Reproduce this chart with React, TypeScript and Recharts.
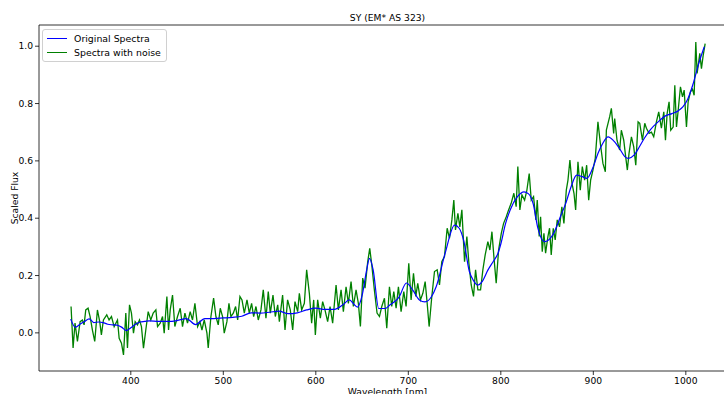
import { LineChart, Line, XAxis, YAxis, Legend, ReferenceLine } from "recharts";

// smooth spectrum (blue)
const origWl = [
  335, 340, 345, 350, 355, 360, 365, 370, 375, 380, 385, 390, 395, 400, 405, 410, 415, 420, 430, 440, 450, 460, 470,
  480, 490, 500, 510, 520, 530, 540, 550, 560, 570, 580, 590, 600, 610, 620, 630, 636, 645, 650, 655, 658, 662, 668,
  675, 680, 690, 698, 705, 712, 718, 725, 730, 740, 750, 755, 760, 766, 770, 775, 780, 786, 792, 797, 800, 805, 810,
  818, 825, 830, 835, 840, 847, 852, 858, 865, 870, 876, 882, 888, 893, 900, 905, 910, 916, 922, 928, 934, 938, 944,
  950, 955, 962, 970, 978, 985, 992, 997, 1002, 1008, 1014, 1020,
];
const origFlux = [
  0.048, 0.02, 0.03, 0.04, 0.049, 0.036, 0.038, 0.036, 0.03, 0.028, 0.027, 0.02, 0.008, 0.018, 0.03, 0.038, 0.04,
  0.042, 0.04, 0.04, 0.043, 0.05, 0.029, 0.05, 0.05, 0.052, 0.054, 0.058, 0.07, 0.069, 0.072, 0.076, 0.067, 0.07,
  0.08, 0.086, 0.082, 0.082, 0.1, 0.115, 0.09, 0.13, 0.22, 0.26, 0.22, 0.085, 0.085, 0.097, 0.125, 0.174, 0.148,
  0.115, 0.108, 0.126, 0.16, 0.28, 0.376, 0.365, 0.32, 0.214, 0.185, 0.167, 0.18, 0.219, 0.25, 0.278, 0.31, 0.38,
  0.428, 0.475, 0.492, 0.485, 0.45, 0.366, 0.318, 0.325, 0.353, 0.41, 0.45, 0.51, 0.55, 0.545, 0.539, 0.58, 0.626,
  0.66, 0.684, 0.67, 0.645, 0.615, 0.609, 0.62, 0.65, 0.678, 0.71, 0.736, 0.757, 0.765, 0.775, 0.789, 0.815, 0.87,
  0.94, 0.998,
];

// noisy spectrum (green)
const noiseWl = [
  335.4, 337.6, 339.7, 342.3, 345.2, 347.7, 349.5, 351.3, 353.8, 356.0, 358.5, 361.0, 363.9, 366.4, 368.2, 370.4,
  374.0, 376.5, 379.1, 382.0, 385.6, 387.4, 389.9, 392.1, 394.6, 396.4, 398.6, 400.7, 402.9, 404.7, 407.2, 409.4,
  411.5, 413.7, 416.2, 418.8, 421.6, 424.2, 427.1, 428.9, 431.8, 434.3, 436.1, 439.0, 440.8, 442.6, 445.1, 447.6,
  450.5, 453.4, 455.9, 458.5, 461.3, 464.2, 466.7, 469.3, 472.2, 474.7, 476.9, 479.4, 482.3, 483.7, 486.6, 489.5,
  492.0, 494.5, 496.7, 499.2, 501.0, 503.9, 506.1, 508.2, 510.8, 513.3, 515.5, 518.0, 520.2, 522.7, 525.6, 528.1,
  530.6, 532.8, 535.3, 537.8, 540.7, 543.2, 546.1, 548.6, 550.8, 553.7, 556.2, 558.8, 560.6,
  564.1, 566.7, 569.5, 572.4, 575.0, 577.5, 580.4, 582.2, 584.7, 587.6, 590.1, 593.0, 595.5, 597.7, 599.5, 602.0,
  604.9, 607.4, 609.9, 612.8, 615.4, 618.2, 621.9, 624.4, 627.3, 629.8, 632.7, 635.2, 638.1, 640.6, 643.5, 646.0,
  648.2, 650.7, 653.2, 656.1, 658.3, 660.5, 663.3, 666.2, 668.8, 671.3, 674.2, 676.7, 679.6, 682.1, 684.3, 686.8,
  689.3, 692.2, 695.1, 697.6, 700.5, 703.0, 705.6, 708.1, 710.2, 713.1, 715.7, 718.2, 720.4, 722.5, 725.4, 728.3,
  731.2, 733.7, 736.2, 739.1, 742.0, 744.5, 747.1, 749.2, 751.0, 753.6, 755.7, 757.9, 760.8, 763.3, 765.5, 768.0,
  770.5, 772.7, 775.2, 778.1, 780.6, 783.1, 786.0, 788.2, 790.4, 792.5, 795.0, 797.6, 800.5, 803.0, 805.9, 808.4,
  811.2, 814.1, 816.6, 818.4, 820.6, 822.8, 825.7, 828.2, 830.7, 832.9, 835.4, 837.9, 839.4, 841.5, 843.0, 844.8,
  846.6, 848.4, 850.9, 852.7, 854.5, 856.7, 858.8, 861.0, 863.5, 866.0, 868.2, 870.8, 872.6, 874.7, 876.9, 879.1,
  880.9, 883.4, 885.9, 888.1, 890.6, 892.8, 895.0, 897.1, 899.6, 902.1, 905.0, 907.6, 910.4, 913.0,
  914.1, 917.7, 919.5, 922.0, 923.1, 925.6, 928.5, 930.3, 932.9, 935.0, 936.8, 938.6, 941.2, 943.7, 945.9, 948.4,
  950.2, 953.1, 955.6, 957.4, 960.3, 962.8, 965.3, 968.2, 970.7, 973.6, 976.2, 978.0, 979.8, 981.9, 983.7, 986.3,
  988.1, 989.9, 991.7, 994.2, 996.4, 998.2, 1000.7, 1002.5, 1005.0, 1007.2, 1009.0, 1010.8, 1012.2, 1013.7, 1015.1,
  1016.9, 1018.7, 1020.9,
];
const noiseFlux = [
  0.092, -0.053, 0.034, -0.03, 0.039, 0.045, 0.028, 0.08, 0.086, 0.057, 0.01, -0.03, 0.08, 0.039, -0.007, 0.045,
  0.063, 0.045, 0.057, 0.022, 0.045, -0.019, -0.036, -0.077, 0.069, -0.053, 0.098, 0.069, -0.001, 0.039, 0.028, 0.045,
  0.022, -0.053, 0.01, 0.074, 0.045, 0.069, 0.08, 0.022, 0.034, 0.057, -0.001, 0.127, 0.01, 0.08, 0.132, 0.022,
  0.057, 0.086, 0.022, 0.069, 0.034, 0.074, 0.045, 0.103, 0.022, 0.039, 0.01, 0.045, -0.001, -0.053, 0.057, 0.121,
  0.057, 0.028, 0.086, 0.057, -0.001, 0.039, 0.103, 0.057, 0.069, 0.092, 0.045, 0.127, 0.115, 0.069, 0.115, 0.069,
  0.103, 0.057, 0.092, 0.045, 0.08, 0.15, 0.051, 0.144, 0.069, 0.132, 0.057, 0.098, 0.039,
  0.132, 0.01, 0.115, 0.08, 0.01, 0.109, 0.074, 0.138, 0.08, 0.103, 0.22, 0.138, 0.034, 0.115, -0.007, 0.115,
  0.051, 0.109, 0.08, 0.039, 0.092, 0.034, 0.167, 0.08, 0.15, 0.074, 0.161, 0.103, 0.179, 0.092, 0.15, 0.103,
  0.022, 0.191, 0.156, 0.248, 0.295, 0.237, 0.15, 0.069, 0.057, 0.092, 0.121, 0.016, 0.161, 0.092, 0.144, 0.086,
  0.161, 0.074, 0.144, 0.092, 0.243, 0.115, 0.208, 0.127, 0.173, 0.115, 0.138, 0.179, 0.103, 0.022, 0.127, 0.214,
  0.22, 0.167, 0.248, 0.266, 0.365, 0.33, 0.394, 0.463, 0.359, 0.417, 0.37, 0.429, 0.248, 0.336, 0.243, 0.167,
  0.127, 0.22, 0.15, 0.15, 0.22, 0.272, 0.318, 0.289, 0.353, 0.266, 0.173, 0.289, 0.347, 0.382, 0.405, 0.429,
  0.452, 0.487, 0.44, 0.58, 0.429, 0.481, 0.463, 0.498, 0.556, 0.463, 0.475, 0.394, 0.463, 0.336, 0.405, 0.283,
  0.347, 0.278, 0.336, 0.365, 0.272, 0.365, 0.324, 0.394, 0.37, 0.44, 0.382, 0.498, 0.533, 0.603, 0.522, 0.487,
  0.429, 0.597, 0.498, 0.58, 0.533, 0.585, 0.463, 0.533, 0.568, 0.609, 0.736, 0.661, 0.591, 0.562,
  0.707, 0.754, 0.783, 0.696, 0.748, 0.672, 0.638, 0.707, 0.672, 0.614, 0.568, 0.626, 0.684, 0.649, 0.585, 0.736,
  0.731, 0.672, 0.731, 0.714, 0.696, 0.7, 0.684, 0.736, 0.771, 0.714, 0.771, 0.672, 0.765, 0.806, 0.707, 0.718,
  0.864, 0.718, 0.775, 0.858, 0.823, 0.847, 0.718, 0.806, 0.841, 0.85, 0.829, 1.015, 0.905, 0.94, 0.975,
  0.922, 0.966, 1.009,
];

const xTicks = [400, 500, 600, 700, 800, 900, 1000];
const yTicks = [0, 0.2, 0.4, 0.6, 0.8, 1.0];
const legendItems = [
  { name: "Original Spectra", color: "#0000ff" },
  { name: "Spectra with noise", color: "#008000" },
];

const origData = origWl.map((wl, i) => ({ wl, flux: origFlux[i] }));
const noiseData = noiseWl.map((wl, i) => ({ wl, flux: noiseFlux[i] }));

const FONT = "'DejaVu Sans', sans-serif";
const TICK = { fill: "#000", fontSize: 9.2, fontFamily: FONT };
const X_DOMAIN: [number, number] = [300.75, 1054.25];
const Y_DOMAIN: [number, number] = [-0.133, 1.074];

function LegendBox() {
  return (
    <div
      style={{
        background: "rgba(255,255,255,0.8)",
        border: "1px solid #d0d0d0",
        borderRadius: 3,
        padding: "2px 5px 2px 4px",
        fontFamily: FONT,
        fontSize: 9.4,
        color: "#000",
        lineHeight: "13.5px",
      }}
    >
      {legendItems.map((it) => (
        <div key={it.name} style={{ display: "flex", alignItems: "center" }}>
          <span style={{ display: "inline-block", width: 20, height: 0, borderTop: `1.4px solid ${it.color}`, marginRight: 7 }} />
          <span>{it.name}</span>
        </div>
      ))}
    </div>
  );
}

export default function App() {
  return (
    <div style={{ position: "absolute", left: 0, top: 0, width: 724, height: 394, overflow: "hidden", background: "#fff" }}>
      <LineChart width={736} height={394} margin={{ top: 25, right: 0, bottom: 0, left: 0 }}>
        <XAxis
          dataKey="wl"
          type="number"
          domain={X_DOMAIN}
          ticks={xTicks}
          allowDataOverflow
          height={23}
          tickSize={4}
          tickMargin={2}
          tick={TICK}
          tickLine={{ stroke: "#000", strokeWidth: 0.8 }}
          axisLine={{ stroke: "#000", strokeWidth: 0.8 }}
        />
        <YAxis
          type="number"
          domain={Y_DOMAIN}
          ticks={yTicks}
          allowDataOverflow
          width={39}
          tickSize={4}
          tickMargin={2}
          tick={TICK}
          tickFormatter={(v: number) => v.toFixed(1)}
          tickLine={{ stroke: "#000", strokeWidth: 0.8 }}
          axisLine={{ stroke: "#000", strokeWidth: 0.8 }}
        />
        <ReferenceLine y={Y_DOMAIN[1]} stroke="#000" strokeWidth={0.8} ifOverflow="extendDomain" />
        <ReferenceLine x={X_DOMAIN[1]} stroke="#000" strokeWidth={0.8} ifOverflow="extendDomain" />
        <Line
          data={noiseData}
          dataKey="flux"
          name="Spectra with noise"
          type="linear"
          stroke="#008000"
          strokeWidth={1.3}
          dot={false}
          isAnimationActive={false}
        />
        <Line
          data={origData}
          dataKey="flux"
          name="Original Spectra"
          type="monotone"
          stroke="#0000ff"
          strokeWidth={1.2}
          dot={false}
          isAnimationActive={false}
        />
        <Legend
          layout="vertical"
          align="center"
          verticalAlign="middle"
          wrapperStyle={{ left: 42, top: 29, width: "auto" }}
          content={() => <LegendBox />}
        />
        <text x={387.5} y={20.5} textAnchor="middle" fontFamily={FONT} fontSize={9.2} fill="#000">
          SY (EM* AS 323)
        </text>
        <text x={387.5} y={395} textAnchor="middle" fontFamily={FONT} fontSize={9.2} fill="#000">
          Wavelength [nm]
        </text>
        <text
          x={14}
          y={198}
          transform="rotate(-90 14 198)"
          textAnchor="middle"
          dominantBaseline="central"
          fontFamily={FONT}
          fontSize={9.2}
          fill="#000"
        >
          Scaled Flux
        </text>
      </LineChart>
    </div>
  );
}
